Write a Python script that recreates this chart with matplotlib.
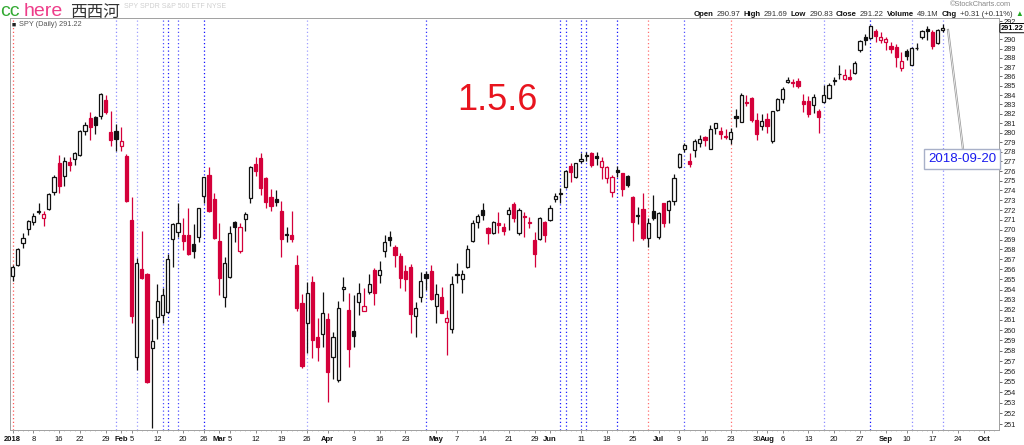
import numpy as np
import pandas as pd
import matplotlib
matplotlib.use('Agg')
import matplotlib.pyplot as plt
from matplotlib.ticker import FixedLocator, NullFormatter

plt.rcParams['font.family'] = ['Liberation Sans', 'DejaVu Sans']

# --- SPY daily, 2018-01-02 .. 2018-09-19 ---
opens = [265.34, 266.44, 268.68, 270.04, 270.81, 271.80, 271.15, 272.13, 273.87, 276.84,
         275.49, 276.97, 277.22, 277.64, 280.22, 281.52, 281.66, 281.76, 283.46, 280.11,
         280.19, 278.58, 277.60, 270.98, 257.37, 266.01, 265.51, 258.30, 261.26, 261.45,
         261.75, 269.08, 269.80, 269.46, 269.46, 268.55, 269.29, 273.40, 275.63, 273.15,
         268.88, 263.26, 265.21, 270.81, 267.88, 271.05, 273.19, 276.73, 277.32, 275.25,
         273.29, 273.09, 271.93, 269.46, 269.46, 266.44, 262.70, 260.67, 264.71, 259.37,
         259.60, 261.09, 257.37, 255.18, 264.08, 261.95, 259.89, 262.79, 261.91, 263.78,
         265.94, 265.47, 267.85, 269.29, 268.25, 267.37, 265.84, 266.27, 261.41, 263.29,
         265.51, 265.84, 262.40, 263.29, 260.77, 260.09, 265.41, 265.01, 266.27, 268.88,
         270.78, 272.00, 270.20, 269.63, 270.64, 270.24, 271.56, 272.58, 269.70, 271.42,
         270.78, 268.95, 269.05, 270.81, 270.98, 273.09, 273.63, 274.31, 276.56, 275.42,
         277.01, 277.56, 277.85, 277.60, 276.46, 275.25, 273.81, 276.11, 275.77, 275.49,
         273.29, 271.39, 272.07, 269.19, 271.90, 269.29, 272.68, 272.00, 272.95, 276.39,
         278.30, 277.01, 278.19, 278.93, 279.52, 278.33, 280.47, 280.19, 279.66, 279.31,
         281.76, 281.16, 283.25, 283.64, 281.34, 280.71, 281.42, 279.14, 282.37, 283.60,
         285.35, 285.35, 285.46, 283.35, 283.32, 282.90, 282.26, 283.25, 283.67, 285.50,
         286.21, 285.74, 285.92, 286.39, 288.81, 290.25, 290.14, 290.90, 289.88, 289.70,
         289.30, 289.16, 286.89, 288.73, 287.24, 289.05, 290.25, 291.10, 290.79, 289.59,
         290.97]
highs = [266.44, 268.12, 269.63, 270.98, 271.66, 272.75, 271.93, 273.70, 275.59, 277.64,
         277.50, 277.43, 278.01, 280.29, 281.16, 282.16, 281.76, 284.18, 284.00, 282.29,
         280.92, 280.58, 277.77, 273.36, 267.11, 269.87, 265.61, 261.09, 264.55, 264.12,
         267.54, 270.64, 272.75, 271.21, 272.17, 270.57, 272.23, 275.42, 276.46, 273.70,
         270.64, 267.21, 270.37, 270.85, 270.64, 271.77, 276.53, 277.43, 277.85, 275.35,
         274.11, 274.04, 272.95, 270.24, 271.90, 267.41, 263.56, 264.77, 265.34, 261.15,
         263.78, 261.65, 259.80, 262.89, 265.27, 263.68, 263.46, 264.62, 264.18, 265.54,
         266.11, 266.81, 269.46, 269.90, 268.45, 267.62, 266.44, 266.54, 262.73, 265.77,
         265.87, 266.44, 264.55, 264.28, 261.98, 265.34, 266.61, 265.94, 268.45, 270.98,
         271.59, 272.68, 270.25, 270.85, 271.83, 270.64, 272.34, 272.85, 272.17, 271.80,
         271.32, 269.80, 271.32, 270.85, 272.51, 273.70, 274.28, 276.11, 276.87, 276.87,
         277.91, 277.95, 278.01, 278.01, 277.43, 276.53, 275.59, 276.53, 275.83, 275.59,
         273.43, 272.34, 273.70, 271.15, 273.53, 271.83, 272.75, 273.02, 275.66, 277.85,
         278.96, 277.85, 279.31, 279.77, 279.66, 280.82, 281.06, 280.58, 280.36, 280.47,
         282.47, 284.25, 284.00, 283.75, 282.05, 281.98, 282.05, 282.29, 283.67, 284.85,
         285.92, 285.74, 285.85, 284.14, 283.86, 284.07, 282.47, 285.10, 285.28, 285.92,
         287.24, 286.82, 286.82, 287.64, 289.95, 290.61, 291.60, 291.15, 290.79, 290.25,
         289.70, 289.52, 288.62, 288.98, 289.16, 289.59, 290.98, 291.42, 290.98, 291.15,
         291.69]
lows = [264.87, 266.37, 268.12, 269.43, 270.44, 271.59, 270.40, 272.00, 273.53, 273.70,
        274.45, 276.04, 276.63, 277.56, 279.77, 279.24, 279.87, 281.42, 281.95, 278.65,
        278.12, 278.12, 272.85, 260.73, 256.14, 265.04, 254.90, 250.63, 259.11, 260.73,
        261.65, 266.27, 269.29, 267.95, 267.44, 267.11, 268.72, 272.68, 271.83, 269.02,
        263.46, 262.30, 265.11, 268.72, 267.68, 269.90, 272.75, 275.52, 273.53, 272.17,
        271.93, 272.44, 267.21, 268.78, 268.72, 261.91, 256.30, 257.76, 257.27, 257.03,
        258.34, 253.11, 255.28, 255.02, 262.89, 256.46, 258.40, 261.48, 261.85, 263.56,
        262.50, 264.62, 267.27, 268.38, 266.24, 264.18, 263.88, 259.76, 259.37, 262.79,
        263.98, 262.96, 260.67, 261.65, 257.59, 259.76, 264.62, 263.62, 266.11, 268.78,
        270.14, 270.98, 268.55, 269.60, 269.63, 269.46, 269.97, 270.81, 269.46, 269.29,
        270.14, 266.27, 268.95, 268.78, 270.91, 272.85, 272.68, 274.21, 274.90, 275.25,
        276.81, 277.04, 276.39, 276.63, 275.14, 274.73, 273.29, 275.42, 273.43, 274.31,
        268.88, 270.57, 268.95, 268.28, 270.98, 269.02, 270.24, 270.71, 272.51, 276.35,
        278.01, 276.39, 277.43, 278.54, 278.61, 278.26, 279.87, 279.31, 279.31, 278.82,
        280.58, 281.10, 282.82, 281.16, 279.24, 280.29, 280.01, 278.96, 282.26, 283.14,
        285.28, 284.85, 284.78, 282.19, 281.66, 282.12, 279.98, 283.20, 283.60, 285.03,
        285.74, 285.64, 285.57, 286.28, 288.66, 289.35, 290.07, 289.70, 289.59, 288.81,
        288.51, 287.00, 286.57, 287.72, 287.17, 288.81, 290.07, 289.95, 288.98, 289.52,
        290.83]
closes = [266.27, 268.02, 269.12, 270.85, 271.39, 271.93, 271.56, 273.60, 275.42, 274.49,
          277.08, 276.63, 277.85, 280.19, 280.79, 280.64, 280.82, 284.11, 282.19, 279.24,
          279.38, 279.14, 272.92, 261.41, 266.67, 265.11, 255.02, 258.97, 262.86, 263.46,
          267.01, 270.54, 270.64, 268.85, 267.52, 267.88, 272.17, 275.35, 271.93, 269.12,
          265.11, 266.61, 269.70, 270.30, 270.27, 271.59, 276.39, 276.04, 274.21, 272.78,
          272.44, 272.78, 269.08, 269.56, 269.02, 262.14, 256.52, 263.62, 259.04, 258.34,
          261.65, 255.92, 259.31, 262.14, 264.22, 258.17, 259.46, 263.62, 262.37, 264.52,
          263.66, 265.94, 268.72, 268.92, 267.41, 265.17, 265.07, 261.55, 262.14, 264.81,
          265.11, 263.03, 263.53, 261.71, 261.15, 264.55, 265.51, 265.51, 268.02, 270.64,
          271.39, 271.49, 269.70, 270.81, 270.47, 269.87, 272.00, 271.21, 272.00, 271.32,
          270.71, 267.54, 271.21, 269.46, 272.17, 273.46, 273.70, 276.01, 275.94, 276.81,
          277.22, 277.67, 276.63, 277.32, 277.04, 276.39, 275.35, 275.87, 274.11, 274.56,
          270.81, 271.49, 269.19, 270.64, 271.15, 271.66, 270.71, 272.95, 275.25, 277.74,
          278.72, 276.70, 279.17, 279.31, 279.24, 280.36, 281.00, 279.87, 279.59, 280.05,
          281.52, 284.00, 283.11, 281.34, 279.87, 281.24, 280.75, 282.26, 283.60, 284.60,
          285.57, 285.31, 284.93, 283.07, 282.01, 283.78, 281.66, 283.96, 285.03, 285.57,
          286.28, 286.10, 285.67, 287.46, 289.81, 289.95, 291.45, 290.33, 290.25, 290.07,
          288.98, 288.07, 287.60, 288.15, 289.05, 289.09, 290.87, 290.90, 289.24, 290.98,
          291.22]

holidays = ['2018-01-15', '2018-02-19', '2018-03-30', '2018-05-28', '2018-07-04', '2018-09-03']
days = pd.bdate_range('2018-01-02', '2018-10-01', freq='C', holidays=holidays)
pos = {d.strftime('%Y-%m-%d'): i for i, d in enumerate(days)}

# dotted marker lines: (date, colour)
event_lines = [('2018-01-02', '#ff5a5a'), ('2018-01-31', '#8c8cff'), ('2018-02-06', '#a0a0ff'),
               ('2018-02-13', '#5050ff'), ('2018-02-14', '#2020ff'), ('2018-02-16', '#5050ff'),
               ('2018-02-26', '#1010ff'), ('2018-03-26', '#a0a0ff'), ('2018-04-27', '#3030ff'),
               ('2018-06-05', '#2020ff'), ('2018-06-06', '#2020ff'), ('2018-06-11', '#2020ff'),
               ('2018-06-12', '#2020ff'), ('2018-06-20', '#1010ff'), ('2018-06-28', '#ff7070'),
               ('2018-07-10', '#5050ff'), ('2018-07-23', '#ff7070'), ('2018-08-16', '#8c8cff'),
               ('2018-08-29', '#1010ff'), ('2018-09-11', '#8c8cff'), ('2018-09-19', '#8c8cff')]

# x-axis labels: (date, text, bold)
date_labels = [('2018-01-02', '2018', True), ('2018-01-08', '8', False), ('2018-01-16', '16', False),
               ('2018-01-22', '22', False), ('2018-01-29', '29', False), ('2018-02-01', 'Feb', True),
               ('2018-02-05', '5', False), ('2018-02-12', '12', False), ('2018-02-20', '20', False),
               ('2018-02-26', '26', False), ('2018-03-01', 'Mar', True), ('2018-03-05', '5', False),
               ('2018-03-12', '12', False), ('2018-03-19', '19', False), ('2018-03-26', '26', False),
               ('2018-04-02', 'Apr', True), ('2018-04-09', '9', False), ('2018-04-16', '16', False),
               ('2018-04-23', '23', False), ('2018-05-01', 'May', True), ('2018-05-07', '7', False),
               ('2018-05-14', '14', False), ('2018-05-21', '21', False), ('2018-05-29', '29', False),
               ('2018-06-01', 'Jun', True), ('2018-06-11', '11', False), ('2018-06-18', '18', False),
               ('2018-06-25', '25', False), ('2018-07-02', 'Jul', True), ('2018-07-09', '9', False),
               ('2018-07-16', '16', False), ('2018-07-23', '23', False), ('2018-07-30', '30', False),
               ('2018-08-01', 'Aug', True), ('2018-08-06', '6', False), ('2018-08-13', '13', False),
               ('2018-08-20', '20', False), ('2018-08-27', '27', False), ('2018-09-04', 'Sep', True),
               ('2018-09-10', '10', False), ('2018-09-17', '17', False), ('2018-09-24', '24', False),
               ('2018-10-01', 'Oct', True)]

price_ticks = list(range(251, 293))
last_close = 291.22

RED = '#d4003a'
BLACK = '#111111'

W, H = 1024, 445
fig = plt.figure(figsize=(W / 100, H / 100), dpi=100)
L, R, T, B = 10, 999, 18, 430
ax = fig.add_axes([L / W, 1 - B / H, (R - L) / W, (B - T) / H])

n = len(closes)
x = np.arange(n)
o = np.array(opens); h = np.array(highs); lo = np.array(lows); c = np.array(closes)
prev = np.r_[c[0], c[:-1]]
cols = np.where(c >= prev, BLACK, RED)
up = c >= o

ax.set_yscale('log')
ax.vlines(x, lo, h, colors=cols, lw=0.9, zorder=3)
bw = 0.62
bot = np.minimum(o, c)
ht = np.maximum(np.abs(c - o), 0.03)
ax.bar(x[up], ht[up], bottom=bot[up], width=bw, facecolor='white', edgecolor=cols[up], lw=0.9, zorder=4)
ax.bar(x[~up], ht[~up], bottom=bot[~up], width=bw, facecolor=cols[~up], edgecolor=cols[~up], lw=0.9, zorder=4)

for d, col in event_lines:
    ax.axvline(pos[d], color=col, lw=0.9, ls=(0, (1, 2)), zorder=1)

ax.set_xlim(-0.52, 190.9)
ax.set_ylim(250.44, 292.33)

ax.yaxis.tick_right()
ax.yaxis.set_major_locator(FixedLocator(price_ticks))
ax.yaxis.set_minor_locator(FixedLocator([]))
ax.set_yticklabels(['' if p == 291 else str(p) for p in price_ticks])
ax.yaxis.set_minor_formatter(NullFormatter())
ax.tick_params(axis='y', which='major', length=2, width=0.6, colors='#555555', labelsize=5.3, pad=1.5,
               labelcolor='#222222')

ax.xaxis.set_major_locator(FixedLocator([pos[d] for d, _, _ in date_labels]))
ax.set_xticklabels([t for _, t, _ in date_labels])
for lab, (_, _, bold) in zip(ax.get_xticklabels(), date_labels):
    if bold:
        lab.set_fontweight('bold')
ax.xaxis.set_minor_locator(FixedLocator(np.arange(0, 191)))
ax.tick_params(axis='x', which='major', length=2, width=0.6, colors='#777777', labelsize=5.5, pad=2,
               labelcolor='#111111')
ax.tick_params(axis='x', which='minor', length=1, width=0.5, colors='#aaaaaa')

for s in ax.spines.values():
    s.set_color('#a0a0a0')
    s.set_linewidth(0.7)

ax.text(1.002, last_close, f'{last_close:.2f}', transform=ax.get_yaxis_transform(), fontsize=5.3,
        fontweight='bold', va='center', ha='left', color='black',
        bbox=dict(boxstyle='round,pad=0.15', fc='white', ec='black', lw=0.7), zorder=10)

# big label in the middle
fig.text(497 / W, 1 - 100 / H, '1.5.6', color='#e8141e', fontsize=26, ha='center', va='center')

# date call-out
fig.text(962 / W, 1 - 159 / H, '2018-09-20', color='#1a1aee', fontsize=9.5, ha='center', va='center',
         bbox=dict(boxstyle='square,pad=0.3', fc='white', ec='#a8b0c8', lw=1.0))
fig.add_artist(plt.Line2D([948 / W, 963 / W], [1 - 30 / H, 1 - 149 / H], color='#999999', lw=1.6))
fig.add_artist(plt.Line2D([948 / W, 963 / W], [1 - 30 / H, 1 - 149 / H], color='white', lw=0.5))

# header texts
fig.text(124 / W, 1 - 6 / H, 'SPY SPDR S&P 500 ETF NYSE', fontsize=5.0, color='#cfcfcf', va='center')
fig.text(12 / W, 1 - 25 / H, '\u25a0', fontsize=5, color='#222222', va='center')
fig.text(19 / W, 1 - 25 / H, 'SPY (Daily) 291.22', fontsize=5.3, color='#555555', va='center')
fig.text(1011 / W, 1 - 5 / H, '\u00a9StockCharts.com', fontsize=5.3, color='#888888', va='center', ha='right')

renderer = fig.canvas.get_renderer()
parts = [('Open', 'bold', '#111111'), ('290.97', 'normal', '#333333'), ('High', 'bold', '#111111'),
         ('291.69', 'normal', '#333333'), ('Low', 'bold', '#111111'), ('290.83', 'normal', '#333333'),
         ('Close', 'bold', '#111111'), ('291.22', 'normal', '#333333'), ('Volume', 'bold', '#111111'),
         ('49.1M', 'normal', '#333333'), ('Chg', 'bold', '#111111'), ('+0.31 (+0.11%)', 'normal', '#333333'),
         ('\u25b2', 'normal', '#22aa22')]
xx = 694
for s, wgt, col in parts:
    t = fig.text(xx / W, 1 - 14 / H, s, fontsize=5.6, fontweight=wgt, color=col, va='center', ha='left',
                 family=['Liberation Sans', 'DejaVu Sans'])
    xx += t.get_window_extent(renderer).width + 3

# watermark
fig.text(0, 1 - 12 / H, 'cc', fontsize=14, color='#33aa33', va='center', ha='left')
fig.text(24 / W, 1 - 12 / H, 'here', fontsize=14, color='#ee3d8a', va='center', ha='left')
fig.text(70 / W, 1 - 12 / H, '西西河', fontsize=12, color='#333333', va='center', ha='left',
         family=['Noto Sans CJK SC', 'DejaVu Sans'])

fig.savefig('out.png', dpi=100, facecolor='white')
